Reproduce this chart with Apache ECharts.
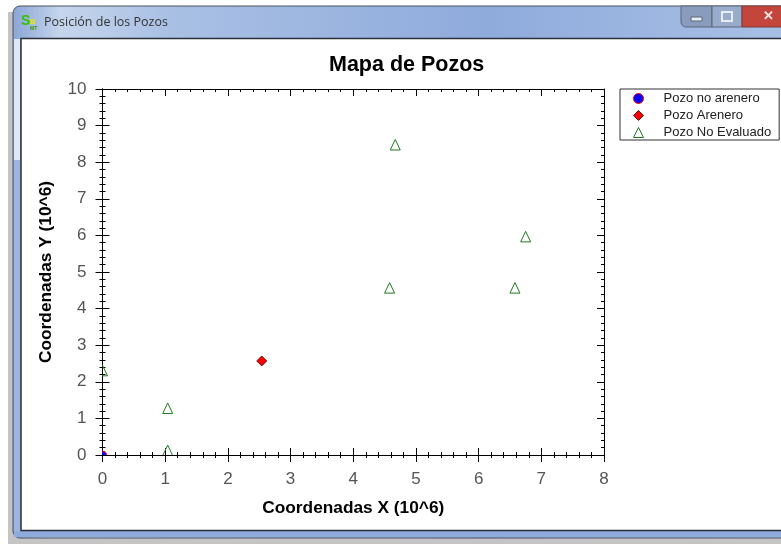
<!DOCTYPE html>
<html><head><meta charset="utf-8">
<script src="https://cdn.jsdelivr.net/npm/echarts@6/dist/echarts.min.js"></script>
<style>html,body{margin:0;padding:0;background:#fff}#c{width:781px;height:544px}</style>
</head><body><div id="c"></div>
<script>
const windowTitle = 'Posición de los Pozos';
const chartTitle = 'Mapa de Pozos';
const xName = 'Coordenadas X (10^6)';
const yName = 'Coordenadas Y (10^6)';
const noArenero = [[0.0, 0.0]];
const arenero = [[2.54, 2.57]];
const noEvaluado = [[0.0, 2.3], [1.04, 0.12], [1.04, 1.27], [4.58, 4.56], [4.67, 8.47], [6.58, 4.56], [6.75, 5.96]];
const seriesNames = ['Pozo no arenero', 'Pozo Arenero', 'Pozo No Evaluado'];

const FONT = '"Liberation Sans", Arial, sans-serif';
const line = { color: '#000', width: 1 };
function ax(max, interval, position, inside, labelled, name, nameGap) {
  return {
    type: 'value', min: 0, max, interval, position,
    axisLine: { show: true, onZero: false, lineStyle: line },
    axisTick: { show: true, inside, length: 7, lineStyle: line },
    minorTick: { show: true, splitNumber: 5, length: 3, lineStyle: line },
    splitLine: { show: false }, minorSplitLine: { show: false },
    axisLabel: { show: labelled, fontFamily: FONT, fontSize: 17, color: '#555', margin: 16, showMinLabel: true, showMaxLabel: true },
    name: labelled ? name : '', nameLocation: 'middle', nameGap,
    nameTextStyle: { fontFamily: FONT, fontSize: 17.3, fontWeight: 'bold', color: '#000' }
  };
}
const titleGrad = new echarts.graphic.LinearGradient(0, 0, 1, 0, [
  { offset: 0, color: '#8aa6d6' }, { offset: 0.06, color: '#c5d5ec' }, { offset: 0.2, color: '#a9c0e4' },
  { offset: 0.6, color: '#8fabdc' }, { offset: 1, color: '#a9c1e6' }]);
const chrome = [
  { type: 'rect', shape: { x: 8, y: 12, width: 790, height: 532 }, style: { fill: '#c4c4c4' }, z: -5 },
  { type: 'rect', shape: { x: 13, y: 6, width: 790, height: 532, r: 7 }, style: { fill: titleGrad, stroke: '#4a5260', lineWidth: 1 }, z: -4 },
  { type: 'rect', shape: { x: 14, y: 39, width: 6, height: 121 }, style: { fill: '#dfe7f5' }, z: -4 },
  { type: 'rect', shape: { x: 14, y: 160, width: 6, height: 371 }, style: { fill: '#9db5df' }, z: -4 },
  { type: 'rect', shape: { x: 14, y: 531, width: 790, height: 6 }, style: { fill: '#8faadd' }, z: -4 },
  { type: 'rect', shape: { x: 21, y: 38.5, width: 790, height: 492 }, style: { fill: '#fff', stroke: '#2a2f38', lineWidth: 1.5 }, z: -3 },
  { type: 'rect', shape: { x: 681, y: 6, width: 31, height: 21, r: [0, 0, 0, 5] }, style: { fill: '#8a9cbd', stroke: '#5a6478' }, z: -2 },
  { type: 'rect', shape: { x: 712, y: 6, width: 30, height: 21 }, style: { fill: '#9aaccb', stroke: '#5a6478' }, z: -2 },
  { type: 'rect', shape: { x: 742, y: 6, width: 45, height: 21 }, style: { fill: '#c4453c', stroke: '#7a3a38' }, z: -2 },
  { type: 'rect', shape: { x: 691, y: 17, width: 11, height: 4 }, style: { fill: '#e8edf5', stroke: '#5a6478' }, z: -1 },
  { type: 'rect', shape: { x: 722, y: 12, width: 10, height: 9 }, style: { fill: 'none', stroke: '#e8edf5', lineWidth: 2 }, z: -1 },
  { type: 'text', style: { x: 768, y: 16, text: '✕', fill: '#f0e8e8', font: 'bold 13px ' + FONT, align: 'center', verticalAlign: 'middle' }, z: -1 },
  { type: 'text', style: { x: 21, y: 21, text: 'S', fill: '#35c000', font: 'bold 14px ' + FONT, verticalAlign: 'middle' }, z: -1 },
  { type: 'text', style: { x: 30, y: 22, text: 'B', fill: '#e8e800', font: 'bold 8px ' + FONT, verticalAlign: 'middle' }, z: -1 },
  { type: 'text', style: { x: 30, y: 29, text: 'MT', fill: '#2f9a00', font: 'bold 5px ' + FONT, verticalAlign: 'middle' }, z: -1 },
  { type: 'text', style: { x: 44, y: 22.5, text: windowTitle, fill: '#333', font: '12.5px "Open Sans", sans-serif', verticalAlign: 'middle' }, z: -1 }
];

const circleStyle = { color: '#0000ff', borderColor: '#ff0000', borderWidth: 1, opacity: 1 };
const diamondStyle = { color: '#ff0000', borderColor: '#300', borderWidth: 0.8, opacity: 1 };
const triangleStyle = { color: 'rgba(255,255,255,0)', borderColor: '#1e7a1e', borderWidth: 1, opacity: 1 };

// Custom series so markers on the axis are cut at the plot edge, as in the reference.
function circleItem(params, api) {
  const p = api.coord([api.value(0), api.value(1)]);
  return { type: 'circle', shape: { cx: p[0], cy: p[1], r: 4 },
    style: { fill: circleStyle.color, stroke: circleStyle.borderColor, lineWidth: 1 } };
}
function triangleItem(params, api) {
  const p = api.coord([api.value(0), api.value(1)]);
  return { type: 'polygon', shape: { points: [[p[0], p[1] - 5.5], [p[0] + 5, p[1] + 5], [p[0] - 5, p[1] + 5]] },
    style: { fill: 'none', stroke: triangleStyle.borderColor, lineWidth: 1 } };
}

const chart = echarts.init(document.getElementById('c'), null, { renderer: 'canvas' });
chart.setOption({
  animation: false,
  backgroundColor: '#fff',
  title: { text: chartTitle, left: 324, top: 49,
    textStyle: { fontFamily: FONT, fontSize: 21.5, fontWeight: 'bold', color: '#000' } },
  grid: { left: 102.5, right: 177, top: 89, bottom: 89 },
  legend: {
    left: 620, top: 89, orient: 'vertical', padding: [3, 8, 1, 13],
    backgroundColor: '#fff', borderColor: '#333', borderWidth: 1,
    itemWidth: 10, itemHeight: 10, itemGap: 4, selectedMode: false,
    textStyle: { fontFamily: FONT, fontSize: 13, color: '#222', padding: [0, 0, 0, 15] },
    data: [
      { name: seriesNames[0], icon: 'circle', itemStyle: circleStyle },
      { name: seriesNames[1], icon: 'diamond', itemStyle: diamondStyle },
      { name: seriesNames[2], icon: 'triangle', itemStyle: { color: 'rgba(255,255,255,0)', borderColor: '#1e7a1e', borderWidth: 1 } }
    ]
  },
  xAxis: [
    ax(8, 1, 'bottom', false, true, xName, 45),
    ax(8, 1, 'bottom', true, false),
    ax(8, 1, 'top', true, false)
  ],
  yAxis: [
    ax(10, 1, 'left', false, true, yName, 48),
    ax(10, 1, 'left', true, false),
    ax(10, 1, 'right', true, false)
  ],
  graphic: chrome,
  series: [
    { name: seriesNames[0], type: 'custom', clip: true, data: noArenero, renderItem: circleItem, itemStyle: circleStyle, z: 1 },
    { name: seriesNames[1], type: 'scatter', data: arenero, symbol: 'diamond', symbolSize: 10, z: 5, itemStyle: diamondStyle },
    { name: seriesNames[2], type: 'custom', clip: true, data: noEvaluado, renderItem: triangleItem, itemStyle: triangleStyle, z: 5 }
  ]
});
</script></body></html>
